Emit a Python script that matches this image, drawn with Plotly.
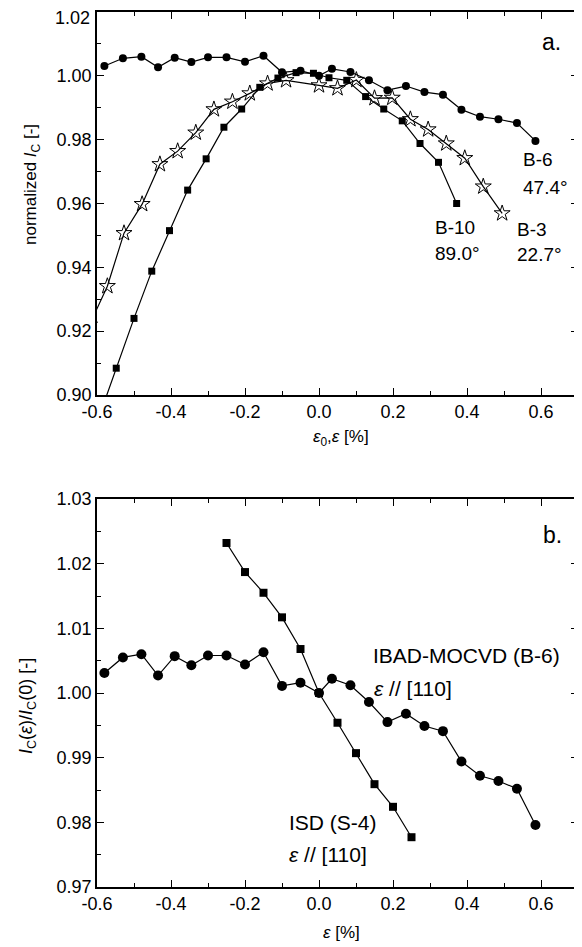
import plotly.graph_objects as go

# The page body has an 8 px margin, so the figure is drawn 8 px in from the corner.
OFF = 8
W, H = 582 - OFF, 947 - OFF

# ---- Panel a data ----
x_b6 = [-0.58, -0.53, -0.48, -0.435, -0.39, -0.345, -0.30, -0.25, -0.20, -0.15, -0.10, -0.05, 0.0,
        0.035, 0.085, 0.135, 0.185, 0.235, 0.285, 0.335, 0.385, 0.435, 0.485, 0.535, 0.585]
y_b6 = [1.0031, 1.0055, 1.0060, 1.0027, 1.0057, 1.0043, 1.0058, 1.0058, 1.0044, 1.0063, 1.0011, 1.0016, 1.0000,
        1.0022, 1.0012, 0.9986, 0.9955, 0.9968, 0.9949, 0.9941, 0.9894, 0.9872, 0.9864, 0.9852, 0.9796]

x_b10 = [-0.598, -0.548, -0.500, -0.452, -0.404, -0.355, -0.305, -0.257, -0.209, -0.160, -0.111, -0.062,
         -0.015, 0.027, 0.075, 0.126, 0.175, 0.225, 0.273, 0.323, 0.372]
y_b10 = [0.892, 0.9084, 0.9240, 0.9388, 0.9515, 0.9642, 0.9740, 0.9839, 0.9896, 0.9964, 0.9993, 1.0010,
         1.0008, 0.9994, 0.9986, 0.9935, 0.9896, 0.9859, 0.9788, 0.9729, 0.9600]

x_b3 = [-0.62, -0.572, -0.527, -0.478, -0.430, -0.382, -0.333, -0.284, -0.234, -0.187, -0.139, -0.089,
        0.0, 0.05, 0.101, 0.150, 0.198, 0.247, 0.295, 0.344, 0.394, 0.444, 0.495]
y_b3 = [0.922, 0.9341, 0.9507, 0.9598, 0.9723, 0.9764, 0.9822, 0.9895, 0.9919, 0.9945, 0.9976, 0.9986,
        0.9970, 0.9961, 0.9987, 0.9930, 0.9931, 0.9864, 0.9832, 0.9788, 0.9742, 0.9653, 0.9569]

# ---- Panel b data ----
x_s4 = [-0.25, -0.20, -0.15, -0.10, -0.05, 0.0, 0.05, 0.10, 0.15, 0.20, 0.25]
y_s4 = [1.0232, 1.0187, 1.0155, 1.0117, 1.0068, 1.0000, 0.9954, 0.9907, 0.9859, 0.9824, 0.9777]

x_ticks = [-0.6, -0.4, -0.2, 0.0, 0.2, 0.4, 0.6]
ya_ticks = [0.90, 0.92, 0.94, 0.96, 0.98, 1.00, 1.02]
yb_ticks = [0.97, 0.98, 0.99, 1.00, 1.01, 1.02, 1.03]

FONT = "Arial, Liberation Sans, sans-serif"
LINE = dict(color="black", width=1.2)

fig = go.Figure()

fig.add_trace(go.Scatter(x=x_b6, y=y_b6, mode="lines+markers", line=LINE,
                         marker=dict(symbol="circle", size=8, color="black"),
                         xaxis="x", yaxis="y", showlegend=False))
fig.add_trace(go.Scatter(x=x_b10, y=y_b10, mode="lines+markers", line=LINE,
                         marker=dict(symbol="square", size=7, color="black"),
                         xaxis="x", yaxis="y", showlegend=False))
fig.add_trace(go.Scatter(x=x_b3, y=y_b3, mode="lines+markers", line=LINE,
                         marker=dict(symbol="star-open", size=12, color="black", line=dict(width=1.0, color="black")),
                         xaxis="x", yaxis="y", showlegend=False))

fig.add_trace(go.Scatter(x=x_b6, y=y_b6, mode="lines+markers", line=LINE,
                         marker=dict(symbol="circle", size=10, color="black"),
                         xaxis="x2", yaxis="y2", showlegend=False))
fig.add_trace(go.Scatter(x=x_s4, y=y_s4, mode="lines+markers", line=LINE,
                         marker=dict(symbol="square", size=8, color="black"),
                         xaxis="x2", yaxis="y2", showlegend=False))

def px(x):
    return (x - OFF) / W

def py(y):
    return 1 - (y - OFF) / H

xdom = [px(97), px(578)]

axis_common = dict(showline=True, mirror="allticks", linecolor="black", linewidth=1.5,
                   ticks="inside", ticklen=7, tickwidth=1.3, tickcolor="black",
                   showgrid=False, zeroline=False, automargin=False,
                   tickfont=dict(family=FONT, size=18, color="black"),
                   minor=dict(ticks="inside", ticklen=4, tickwidth=1.1, tickcolor="black", showgrid=False))

# top label of panel a sits at the very top edge; it is written separately so it is not clipped
ya_text = [f"{v:.2f}" for v in ya_ticks]
top_label = ya_text[-1]
ya_text[-1] = ""

fig.update_layout(
    template=None,
    width=W, height=H, margin=dict(l=0, r=0, t=0, b=0, autoexpand=False),
    paper_bgcolor="white", plot_bgcolor="white",
    xaxis=dict(domain=xdom, range=[-0.6, 0.7], tickvals=x_ticks, ticktext=[f"{v:.1f}" for v in x_ticks],
               minor_dtick=0.1, minor_tick0=0, anchor="y", **axis_common),
    yaxis=dict(domain=[py(395), py(12)], range=[0.90, 1.02], tickvals=ya_ticks,
               ticktext=ya_text, minor_dtick=0.01, minor_tick0=0.0,
               anchor="x", **axis_common),
    xaxis2=dict(domain=xdom, range=[-0.6, 0.7], tickvals=x_ticks, ticktext=[f"{v:.1f}" for v in x_ticks],
                minor_dtick=0.1, minor_tick0=0, anchor="y2", **axis_common),
    yaxis2=dict(domain=[py(887), py(499)], range=[0.97, 1.03], tickvals=yb_ticks,
                ticktext=[f"{v:.2f}" for v in yb_ticks], minor_dtick=0.005, minor_tick0=0.0,
                anchor="x2", **axis_common),
)

def ann(text, x, y, size, xanchor="left", yanchor="middle", angle=0):
    fig.add_annotation(text=text, x=px(x), y=py(y), xref="paper", yref="paper",
                       xanchor=xanchor, yanchor=yanchor, showarrow=False, textangle=angle,
                       font=dict(family=FONT, size=size, color="black"))

ann(top_label, 92, 18.5, 18, xanchor="right")

# Panel a labels
ann("a.", 540, 42, 23)
ann("B-6", 521, 160, 19)
ann("47.4°", 521, 187, 19)
ann("B-10", 433, 228, 19)
ann("89.0°", 433, 253, 19)
ann("B-3", 515, 230, 19)
ann("22.7°", 515, 254, 19)
ann("<i>ε</i><sub>0</sub>,<i>ε</i> [%]", 341, 438, 17, xanchor="center")
ann("normalized <i>I</i><sub>C</sub> [-]", 32, 185, 17, xanchor="center", angle=-90)

# Panel b labels
ann("b.", 541, 535, 23)
ann("IBAD-MOCVD (B-6)", 371, 655, 21)
ann("<i>ε</i> // [110]", 372, 688, 21)
ann("ISD (S-4)", 287, 822, 21)
ann("<i>ε</i> // [110]", 287, 854, 21)
ann("<i>ε</i> [%]", 341, 932, 17, xanchor="center")
ann("<i>I</i><sub>C</sub>(<i>ε</i>)/<i>I</i><sub>C</sub>(0) [-]", 27, 706, 18, xanchor="center", angle=-90)

fig.write_html("out.html")
